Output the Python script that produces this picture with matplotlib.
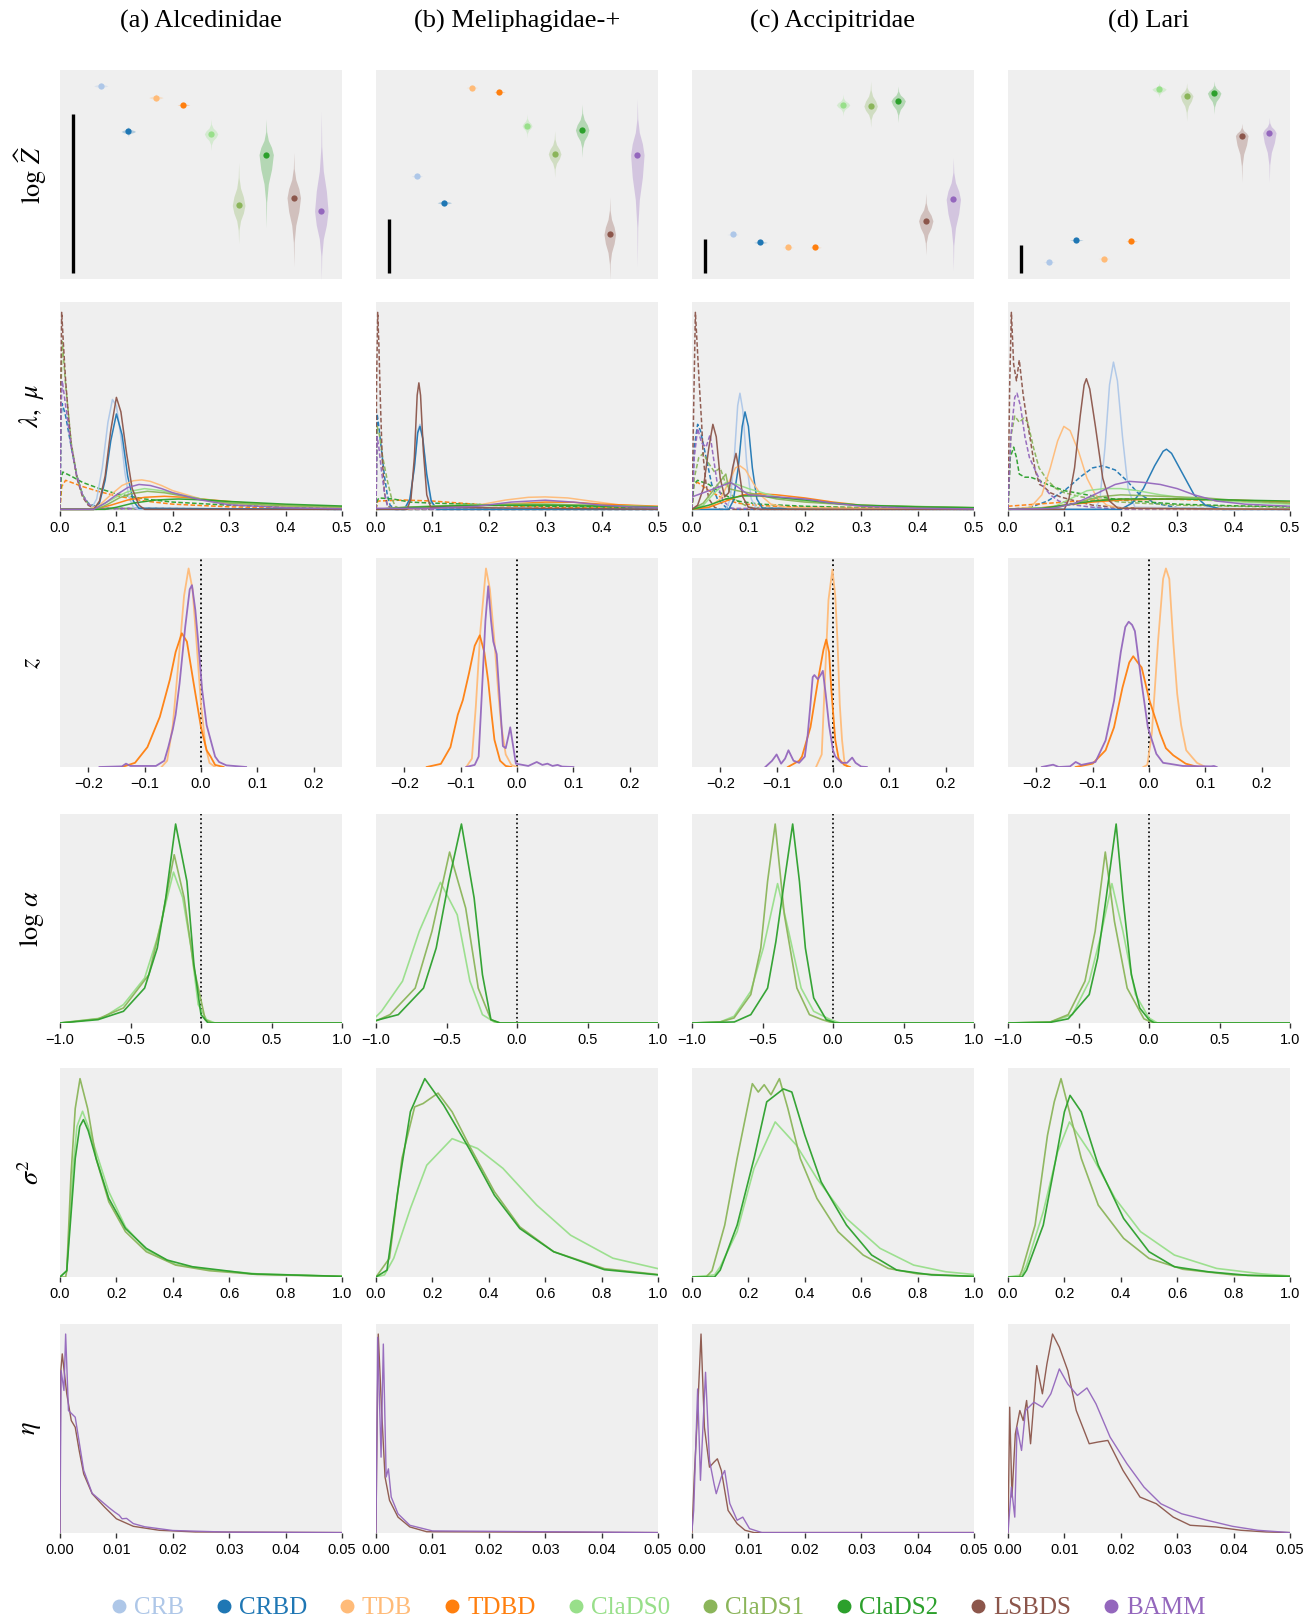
import matplotlib

matplotlib.use("Agg")
import matplotlib.pyplot as plt
from matplotlib.lines import Line2D

plt.rcParams["mathtext.fontset"] = "stix"
plt.rcParams["font.family"] = ["Liberation Sans", "DejaVu Sans"]

MODELS = ["CRB", "CRBD", "TDB", "TDBD", "ClaDS0", "ClaDS1", "ClaDS2", "LSBDS", "BAMM"]
COLORS = {
    "CRB": "#aec7e8", "CRBD": "#1f77b4", "TDB": "#ffbb78", "TDBD": "#ff7f0e",
    "ClaDS0": "#98df8a", "ClaDS1": "#8bb55a", "ClaDS2": "#2ca02c",
    "LSBDS": "#8c564b", "BAMM": "#9467bd",
}
TITLES = ["(a) Alcedinidae", "(b) Meliphagidae-+", "(c) Accipitridae", "(d) Lari"]
ROW_LABELS = [r"$\log\,\widehat{Z}$", r"$\lambda,\ \mu$", r"$z$", r"$\log\,\alpha$",
              r"$\sigma^2$", r"$\eta$"]

# ---- row 1: log Z violins (scaled to panel height) ----
LOGZ_MID = [
    [0.924, 0.706, 0.868, 0.833, 0.694, 0.352, 0.595, 0.389, 0.324],
    [0.492, 0.365, 0.916, 0.895, 0.733, 0.598, 0.713, 0.213, 0.594],
    [0.213, 0.175, 0.151, 0.151, 0.833, 0.827, 0.852, 0.278, 0.381],
    [0.081, 0.186, 0.098, 0.181, 0.908, 0.876, 0.889, 0.686, 0.700],
]
LOGZ_UP = [
    [0.016, 0.024, 0.019, 0.010, 0.071, 0.206, 0.170, 0.217, 0.480],
    [0.010, 0.016, 0.008, 0.008, 0.056, 0.111, 0.124, 0.180, 0.267],
    [0.008, 0.010, 0.006, 0.006, 0.051, 0.120, 0.071, 0.133, 0.200],
    [0.006, 0.008, 0.006, 0.008, 0.032, 0.063, 0.059, 0.059, 0.073],
]
LOGZ_DOWN = [
    [0.016, 0.024, 0.019, 0.010, 0.079, 0.183, 0.350, 0.330, 0.330],
    [0.010, 0.016, 0.008, 0.008, 0.056, 0.111, 0.130, 0.217, 0.535],
    [0.008, 0.010, 0.006, 0.006, 0.052, 0.100, 0.103, 0.163, 0.340],
    [0.006, 0.008, 0.006, 0.008, 0.040, 0.120, 0.100, 0.222, 0.237],
]
LOGZ_HALFWIDTH = [
    [0.26, 0.26, 0.26, 0.23, 0.245, 0.23, 0.26, 0.245, 0.245],
    [0.21, 0.26, 0.21, 0.21, 0.18, 0.23, 0.245, 0.21, 0.245],
    [0.21, 0.245, 0.21, 0.21, 0.245, 0.245, 0.26, 0.26, 0.26],
    [0.21, 0.245, 0.21, 0.21, 0.26, 0.23, 0.245, 0.23, 0.245],
]
SCALE_BAR_TOP = [0.789, 0.289, 0.189, 0.162]
SCALE_BAR_BOTTOM = 0.03

# ---- row 2: lambda (solid) and mu (dashed) densities ----
LAMBDA_A = {
    "CRB": [(0, 0), (0.055, 0), (0.065, 0.05), (0.075, 0.2), (0.085, 0.42), (0.093, 0.53), (0.1, 0.5), (0.108, 0.35), (0.115, 0.18), (0.122, 0.06), (0.13, 0.01), (0.14, 0), (0.5, 0)],
    "CRBD": [(0, 0), (0.06, 0), (0.07, 0.03), (0.08, 0.14), (0.09, 0.33), (0.1, 0.46), (0.11, 0.36), (0.12, 0.16), (0.13, 0.04), (0.14, 0.005), (0.5, 0)],
    "TDB": [(0, 0), (0.05, 0), (0.07, 0.02), (0.09, 0.07), (0.11, 0.115), (0.13, 0.138), (0.145, 0.142), (0.16, 0.135), (0.18, 0.115), (0.2, 0.09), (0.25, 0.05), (0.3, 0.03), (0.4, 0.015), (0.5, 0.01)],
    "TDBD": [(0, 0), (0.06, 0), (0.09, 0.02), (0.12, 0.045), (0.15, 0.058), (0.185, 0.063), (0.22, 0.058), (0.27, 0.045), (0.32, 0.033), (0.4, 0.02), (0.5, 0.012)],
    "ClaDS0": [(0, 0), (0.06, 0), (0.08, 0.03), (0.1, 0.06), (0.12, 0.085), (0.15, 0.1), (0.18, 0.09), (0.2, 0.078), (0.25, 0.05), (0.3, 0.033), (0.4, 0.018), (0.5, 0.012)],
    "ClaDS1": [(0, 0), (0.065, 0), (0.085, 0.025), (0.105, 0.055), (0.125, 0.075), (0.155, 0.087), (0.185, 0.08), (0.21, 0.068), (0.26, 0.045), (0.3, 0.03), (0.4, 0.017), (0.5, 0.011)],
    "ClaDS2": [(0, 0), (0.08, 0), (0.1, 0.01), (0.13, 0.03), (0.17, 0.045), (0.21, 0.05), (0.26, 0.045), (0.3, 0.038), (0.4, 0.025), (0.5, 0.016)],
    "LSBDS": [(0, 0), (0.06, 0), (0.07, 0.04), (0.08, 0.16), (0.09, 0.38), (0.1, 0.54), (0.108, 0.47), (0.118, 0.27), (0.128, 0.1), (0.14, 0.02), (0.15, 0), (0.5, 0)],
    "BAMM": [(0, 0), (0.06, 0), (0.08, 0.03), (0.1, 0.07), (0.12, 0.105), (0.14, 0.12), (0.16, 0.115), (0.18, 0.1), (0.2, 0.08), (0.25, 0.045), (0.3, 0.022), (0.4, 0.008), (0.5, 0.003)],
}
MU_A = {
    "CRBD": [(0, 0), (0.002, 0.45), (0.004, 0.51), (0.01, 0.45), (0.02, 0.3), (0.03, 0.16), (0.04, 0.07), (0.05, 0.03), (0.07, 0.005), (0.5, 0)],
    "TDBD": [(0, 0), (0.003, 0.11), (0.01, 0.14), (0.02, 0.13), (0.04, 0.11), (0.07, 0.085), (0.1, 0.065), (0.15, 0.04), (0.2, 0.025), (0.3, 0.012), (0.4, 0.007), (0.5, 0.004)],
    "ClaDS1": [(0, 0), (0.002, 0.6), (0.004, 0.81), (0.01, 0.6), (0.02, 0.32), (0.03, 0.16), (0.04, 0.07), (0.05, 0.025), (0.07, 0.003), (0.5, 0)],
    "ClaDS2": [(0, 0), (0.002, 0.15), (0.005, 0.18), (0.02, 0.16), (0.04, 0.13), (0.07, 0.1), (0.1, 0.075), (0.15, 0.05), (0.2, 0.035), (0.3, 0.02), (0.4, 0.012), (0.5, 0.008)],
    "LSBDS": [(0, 0), (0.001, 0.5), (0.003, 0.95), (0.006, 0.8), (0.01, 0.62), (0.015, 0.45), (0.02, 0.31), (0.03, 0.15), (0.04, 0.06), (0.05, 0.02), (0.06, 0.005), (0.5, 0)],
    "BAMM": [(0, 0), (0.002, 0.5), (0.004, 0.62), (0.01, 0.5), (0.02, 0.3), (0.03, 0.16), (0.04, 0.07), (0.05, 0.025), (0.07, 0.003), (0.5, 0)],
}
LAMBDA_B = {
    "CRB": [(0, 0), (0.052, 0), (0.061, 0.05), (0.068, 0.21), (0.074, 0.38), (0.078, 0.41), (0.083, 0.35), (0.089, 0.17), (0.097, 0.04), (0.105, 0), (0.5, 0)],
    "CRBD": [(0, 0), (0.05, 0), (0.06, 0.05), (0.068, 0.2), (0.074, 0.37), (0.078, 0.4), (0.083, 0.34), (0.09, 0.17), (0.098, 0.04), (0.108, 0), (0.5, 0)],
    "TDB": [(0, 0), (0.1, 0.005), (0.18, 0.02), (0.23, 0.045), (0.27, 0.058), (0.3, 0.06), (0.34, 0.055), (0.38, 0.04), (0.43, 0.022), (0.5, 0.01)],
    "TDBD": [(0, 0), (0.1, 0.008), (0.2, 0.02), (0.3, 0.035), (0.35, 0.034), (0.4, 0.025), (0.5, 0.015)],
    "ClaDS0": [(0, 0), (0.05, 0.01), (0.15, 0.02), (0.25, 0.025), (0.35, 0.022), (0.5, 0.012)],
    "ClaDS1": [(0, 0), (0.05, 0.01), (0.15, 0.02), (0.3, 0.025), (0.5, 0.012)],
    "ClaDS2": [(0, 0), (0.05, 0.008), (0.15, 0.018), (0.3, 0.02), (0.5, 0.01)],
    "LSBDS": [(0, 0), (0.055, 0), (0.062, 0.05), (0.068, 0.25), (0.073, 0.55), (0.076, 0.61), (0.079, 0.55), (0.084, 0.28), (0.09, 0.07), (0.097, 0.01), (0.5, 0)],
    "BAMM": [(0, 0.005), (0.1, 0.005), (0.18, 0.015), (0.24, 0.035), (0.3, 0.044), (0.35, 0.035), (0.4, 0.02), (0.45, 0.012), (0.5, 0.008)],
}
MU_B = {
    "CRBD": [(0, 0), (0.002, 0.46), (0.005, 0.4), (0.01, 0.28), (0.015, 0.16), (0.02, 0.07), (0.025, 0.02), (0.035, 0), (0.5, 0)],
    "TDBD": [(0, 0), (0.003, 0.04), (0.05, 0.045), (0.1, 0.04), (0.15, 0.03), (0.2, 0.02), (0.3, 0.01), (0.5, 0.005)],
    "ClaDS1": [(0, 0), (0.002, 0.4), (0.006, 0.36), (0.012, 0.25), (0.02, 0.14), (0.027, 0.06), (0.034, 0.015), (0.045, 0), (0.5, 0)],
    "ClaDS2": [(0, 0), (0.002, 0.04), (0.005, 0.055), (0.03, 0.05), (0.06, 0.035), (0.1, 0.03), (0.2, 0.022), (0.3, 0.015), (0.5, 0.008)],
    "LSBDS": [(0, 0), (0.001, 0.6), (0.003, 0.95), (0.005, 0.8), (0.008, 0.5), (0.011, 0.25), (0.015, 0.08), (0.02, 0.02), (0.03, 0), (0.5, 0)],
    "BAMM": [(0, 0), (0.002, 0.35), (0.005, 0.3), (0.01, 0.18), (0.015, 0.08), (0.02, 0.02), (0.03, 0), (0.5, 0)],
}
LAMBDA_C = {
    "CRB": [(0, 0), (0.06, 0), (0.068, 0.05), (0.075, 0.25), (0.081, 0.5), (0.085, 0.56), (0.09, 0.48), (0.097, 0.22), (0.105, 0.05), (0.115, 0), (0.5, 0)],
    "CRBD": [(0, 0), (0.065, 0), (0.073, 0.04), (0.082, 0.2), (0.089, 0.4), (0.094, 0.47), (0.1, 0.4), (0.107, 0.2), (0.115, 0.05), (0.125, 0.005), (0.5, 0)],
    "TDB": [(0, 0), (0.03, 0.01), (0.05, 0.05), (0.065, 0.13), (0.077, 0.2), (0.085, 0.21), (0.095, 0.19), (0.11, 0.12), (0.125, 0.06), (0.14, 0.025), (0.17, 0.008), (0.5, 0)],
    "TDBD": [(0, 0), (0.03, 0.01), (0.06, 0.04), (0.09, 0.07), (0.12, 0.075), (0.15, 0.07), (0.2, 0.055), (0.25, 0.035), (0.3, 0.02), (0.4, 0.01), (0.5, 0.005)],
    "ClaDS0": [(0, 0), (0.02, 0.02), (0.04, 0.08), (0.06, 0.13), (0.08, 0.12), (0.1, 0.1), (0.15, 0.06), (0.2, 0.04), (0.3, 0.02), (0.5, 0.008)],
    "ClaDS1": [(0, 0), (0.02, 0.03), (0.04, 0.1), (0.06, 0.17), (0.065, 0.1), (0.08, 0.09), (0.1, 0.08), (0.15, 0.05), (0.2, 0.035), (0.3, 0.018), (0.5, 0.008)],
    "ClaDS2": [(0, 0), (0.03, 0.02), (0.06, 0.05), (0.09, 0.065), (0.12, 0.065), (0.16, 0.055), (0.2, 0.045), (0.25, 0.03), (0.3, 0.02), (0.4, 0.012), (0.5, 0.008)],
    "LSBDS": [(0, 0), (0.01, 0.02), (0.02, 0.1), (0.03, 0.3), (0.037, 0.41), (0.043, 0.35), (0.05, 0.15), (0.058, 0.06), (0.065, 0.08), (0.072, 0.2), (0.078, 0.27), (0.084, 0.18), (0.09, 0.06), (0.1, 0.01), (0.12, 0), (0.5, 0)],
    "BAMM": [(0, 0.06), (0.01, 0.07), (0.03, 0.09), (0.05, 0.11), (0.068, 0.13), (0.08, 0.11), (0.1, 0.07), (0.15, 0.06), (0.2, 0.05), (0.25, 0.03), (0.3, 0.015), (0.4, 0.005), (0.5, 0.002)],
}
MU_C = {
    "CRBD": [(0, 0), (0.004, 0.3), (0.01, 0.41), (0.015, 0.38), (0.025, 0.25), (0.035, 0.12), (0.045, 0.05), (0.06, 0.01), (0.08, 0), (0.5, 0)],
    "TDBD": [(0, 0), (0.003, 0.12), (0.01, 0.13), (0.02, 0.11), (0.03, 0.09), (0.05, 0.06), (0.08, 0.03), (0.12, 0.018), (0.2, 0.01), (0.5, 0.004)],
    "ClaDS1": [(0, 0), (0.004, 0.15), (0.012, 0.25), (0.02, 0.27), (0.03, 0.22), (0.04, 0.18), (0.05, 0.2), (0.06, 0.12), (0.075, 0.05), (0.1, 0.01), (0.2, 0), (0.5, 0)],
    "ClaDS2": [(0, 0), (0.003, 0.12), (0.01, 0.14), (0.02, 0.13), (0.03, 0.12), (0.05, 0.08), (0.08, 0.04), (0.12, 0.025), (0.2, 0.015), (0.3, 0.008), (0.5, 0.004)],
    "LSBDS": [(0, 0), (0.003, 0.5), (0.006, 0.95), (0.009, 0.8), (0.013, 0.6), (0.017, 0.42), (0.02, 0.25), (0.025, 0.12), (0.03, 0.05), (0.04, 0.01), (0.05, 0), (0.5, 0)],
    "BAMM": [(0, 0), (0.004, 0.25), (0.01, 0.39), (0.017, 0.32), (0.025, 0.3), (0.032, 0.36), (0.038, 0.25), (0.045, 0.12), (0.055, 0.04), (0.07, 0.005), (0.5, 0)],
}
LAMBDA_D = {
    "CRB": [(0, 0), (0.155, 0), (0.163, 0.05), (0.172, 0.3), (0.18, 0.6), (0.187, 0.71), (0.194, 0.62), (0.203, 0.35), (0.213, 0.1), (0.225, 0.01), (0.5, 0)],
    "CRBD": [(0, 0), (0.2, 0), (0.22, 0.03), (0.24, 0.1), (0.26, 0.21), (0.275, 0.28), (0.281, 0.29), (0.29, 0.27), (0.31, 0.17), (0.33, 0.07), (0.35, 0.02), (0.38, 0), (0.5, 0)],
    "TDB": [(0, 0), (0.04, 0.01), (0.06, 0.07), (0.075, 0.2), (0.088, 0.33), (0.099, 0.4), (0.11, 0.38), (0.125, 0.28), (0.14, 0.15), (0.155, 0.07), (0.175, 0.02), (0.2, 0.005), (0.5, 0)],
    "TDBD": [(0, 0), (0.05, 0.005), (0.1, 0.02), (0.15, 0.035), (0.2, 0.045), (0.3, 0.05), (0.4, 0.045), (0.5, 0.035)],
    "ClaDS0": [(0, 0), (0.08, 0.01), (0.11, 0.05), (0.14, 0.09), (0.17, 0.1), (0.2, 0.1), (0.23, 0.09), (0.27, 0.07), (0.3, 0.06), (0.35, 0.045), (0.42, 0.035), (0.5, 0.025)],
    "ClaDS1": [(0, 0), (0.08, 0.005), (0.12, 0.03), (0.16, 0.06), (0.2, 0.07), (0.25, 0.065), (0.3, 0.06), (0.35, 0.055), (0.42, 0.04), (0.5, 0.03)],
    "ClaDS2": [(0, 0), (0.06, 0.005), (0.1, 0.02), (0.15, 0.04), (0.2, 0.05), (0.3, 0.05), (0.4, 0.045), (0.5, 0.04)],
    "LSBDS": [(0, 0), (0.1, 0), (0.108, 0.05), (0.118, 0.2), (0.128, 0.45), (0.135, 0.6), (0.139, 0.63), (0.145, 0.58), (0.155, 0.4), (0.168, 0.15), (0.18, 0.04), (0.195, 0.005), (0.5, 0)],
    "BAMM": [(0, 0), (0.08, 0.005), (0.12, 0.03), (0.16, 0.08), (0.19, 0.12), (0.215, 0.135), (0.24, 0.13), (0.27, 0.12), (0.3, 0.1), (0.33, 0.07), (0.37, 0.04), (0.42, 0.025), (0.5, 0.015)],
}
MU_D = {
    "CRBD": [(0, 0), (0.04, 0.01), (0.07, 0.04), (0.1, 0.09), (0.13, 0.16), (0.15, 0.2), (0.168, 0.21), (0.19, 0.19), (0.21, 0.14), (0.23, 0.08), (0.26, 0.03), (0.3, 0.008), (0.35, 0), (0.5, 0)],
    "TDBD": [(0, 0.015), (0.05, 0.025), (0.1, 0.035), (0.15, 0.045), (0.2, 0.05), (0.25, 0.05), (0.3, 0.048), (0.4, 0.04), (0.5, 0.03)],
    "ClaDS1": [(0, 0), (0.005, 0.35), (0.012, 0.45), (0.02, 0.42), (0.028, 0.44), (0.035, 0.42), (0.045, 0.3), (0.055, 0.2), (0.07, 0.14), (0.085, 0.1), (0.1, 0.08), (0.13, 0.06), (0.16, 0.05), (0.2, 0.035), (0.3, 0.02), (0.5, 0.01)],
    "ClaDS2": [(0, 0), (0.004, 0.25), (0.01, 0.3), (0.015, 0.25), (0.02, 0.17), (0.03, 0.155), (0.04, 0.155), (0.055, 0.14), (0.07, 0.12), (0.1, 0.09), (0.15, 0.065), (0.2, 0.045), (0.25, 0.035), (0.3, 0.025), (0.4, 0.017), (0.5, 0.013)],
    "LSBDS": [(0, 0), (0.003, 0.6), (0.006, 0.95), (0.01, 0.7), (0.015, 0.62), (0.02, 0.72), (0.027, 0.55), (0.033, 0.44), (0.04, 0.33), (0.048, 0.19), (0.056, 0.12), (0.063, 0.11), (0.075, 0.08), (0.093, 0.06), (0.12, 0.04), (0.15, 0.02), (0.2, 0.008), (0.5, 0)],
    "BAMM": [(0, 0), (0.005, 0.35), (0.012, 0.54), (0.016, 0.56), (0.022, 0.5), (0.03, 0.35), (0.038, 0.25), (0.048, 0.19), (0.06, 0.12), (0.075, 0.07), (0.09, 0.04), (0.12, 0.02), (0.15, 0.01), (0.2, 0), (0.5, 0)],
}

# ---- row 3: z densities ----
Z_A = {
    "TDB": [(-0.07, 0), (-0.06, 0.03), (-0.05, 0.2), (-0.04, 0.5), (-0.03, 0.82), (-0.022, 0.95), (-0.015, 0.85), (-0.008, 0.6), (0, 0.3), (0.008, 0.1), (0.015, 0.02), (0.025, 0)],
    "TDBD": [(-0.14, 0), (-0.117, 0.02), (-0.095, 0.095), (-0.073, 0.24), (-0.055, 0.42), (-0.045, 0.55), (-0.034, 0.64), (-0.025, 0.6), (-0.013, 0.4), (0, 0.19), (0.01, 0.08), (0.017, 0.05), (0.025, 0.01), (0.04, 0)],
    "BAMM": [(-0.18, 0), (-0.14, 0.003), (-0.133, 0.016), (-0.125, 0.005), (-0.08, 0.005), (-0.065, 0.03), (-0.058, 0.095), (-0.05, 0.18), (-0.045, 0.25), (-0.038, 0.4), (-0.028, 0.67), (-0.02, 0.85), (-0.016, 0.87), (-0.01, 0.75), (-0.005, 0.6), (0.002, 0.37), (0.01, 0.2), (0.017, 0.13), (0.025, 0.05), (0.032, 0.024), (0.045, 0.008), (0.08, 0)],
}
Z_B = {
    "TDB": [(-0.09, 0), (-0.08, 0.04), (-0.073, 0.29), (-0.065, 0.65), (-0.055, 0.95), (-0.048, 0.85), (-0.04, 0.6), (-0.033, 0.35), (-0.028, 0.2), (-0.02, 0.06), (-0.01, 0.01), (0, 0)],
    "TDBD": [(-0.16, 0), (-0.135, 0.015), (-0.118, 0.095), (-0.105, 0.25), (-0.096, 0.32), (-0.085, 0.45), (-0.075, 0.58), (-0.066, 0.63), (-0.058, 0.55), (-0.051, 0.41), (-0.045, 0.25), (-0.04, 0.13), (-0.03, 0.03), (-0.02, 0.005), (-0.01, 0)],
    "BAMM": [(-0.09, 0), (-0.075, 0.01), (-0.068, 0.05), (-0.062, 0.37), (-0.056, 0.7), (-0.051, 0.865), (-0.046, 0.7), (-0.042, 0.6), (-0.036, 0.54), (-0.03, 0.3), (-0.025, 0.1), (-0.02, 0.09), (-0.015, 0.15), (-0.012, 0.19), (-0.008, 0.12), (-0.002, 0.016), (0.01, 0.01), (0.02, 0.005), (0.035, 0.024), (0.045, 0.01), (0.054, 0.016), (0.063, 0.005), (0.072, 0.01), (0.08, 0.002), (0.1, 0)],
}
Z_C = {
    "TDB": [(-0.03, 0), (-0.02, 0.06), (-0.014, 0.44), (-0.008, 0.8), (-0.001, 0.945), (0.004, 0.82), (0.008, 0.6), (0.012, 0.3), (0.016, 0.13), (0.02, 0.03), (0.025, 0)],
    "TDBD": [(-0.08, 0), (-0.06, 0.03), (-0.055, 0.05), (-0.04, 0.19), (-0.025, 0.44), (-0.017, 0.56), (-0.012, 0.61), (-0.007, 0.55), (-0.003, 0.37), (0.004, 0.13), (0.01, 0.04), (0.02, 0.01), (0.03, 0)],
    "BAMM": [(-0.12, 0), (-0.108, 0.03), (-0.1, 0.06), (-0.092, 0.016), (-0.085, 0.04), (-0.079, 0.08), (-0.07, 0.03), (-0.06, 0.02), (-0.05, 0.05), (-0.045, 0.15), (-0.04, 0.3), (-0.036, 0.43), (-0.033, 0.44), (-0.027, 0.42), (-0.022, 0.44), (-0.018, 0.46), (-0.013, 0.35), (-0.007, 0.2), (0, 0.08), (0.004, 0.05), (0.015, 0.02), (0.025, 0.02), (0.034, 0.045), (0.04, 0.02), (0.05, 0.002), (0.06, 0)],
}
Z_D = {
    "TDB": [(-0.01, 0), (-0.003, 0.01), (0.005, 0.16), (0.016, 0.6), (0.025, 0.9), (0.03, 0.95), (0.036, 0.9), (0.043, 0.6), (0.05, 0.35), (0.057, 0.2), (0.066, 0.08), (0.076, 0.048), (0.085, 0.02), (0.1, 0)],
    "TDBD": [(-0.13, 0), (-0.1, 0.016), (-0.077, 0.08), (-0.062, 0.19), (-0.047, 0.38), (-0.035, 0.5), (-0.028, 0.53), (-0.02, 0.5), (-0.013, 0.476), (0.001, 0.317), (0.02, 0.159), (0.03, 0.09), (0.043, 0.056), (0.065, 0.016), (0.087, 0)],
    "BAMM": [(-0.19, 0), (-0.17, 0.011), (-0.16, 0), (-0.14, 0.003), (-0.13, 0.024), (-0.12, 0.01), (-0.095, 0.024), (-0.077, 0.127), (-0.062, 0.317), (-0.05, 0.55), (-0.042, 0.67), (-0.036, 0.695), (-0.03, 0.68), (-0.025, 0.65), (-0.013, 0.4), (-0.002, 0.19), (0.013, 0.063), (0.025, 0.02), (0.035, 0.016), (0.06, 0.005), (0.11, 0.003), (0.115, 0.005), (0.12, 0)],
}

# ---- row 4: log alpha densities ----
ALPHA_A = {
    "ClaDS0": [(-1, 0), (-0.7, 0.024), (-0.55, 0.088), (-0.4, 0.215), (-0.31, 0.407), (-0.195, 0.722), (-0.13, 0.6), (-0.07, 0.359), (-0.02, 0.088), (0.04, 0.016), (0.1, 0), (1, 0)],
    "ClaDS1": [(-1, 0), (-0.73, 0.02), (-0.55, 0.072), (-0.37, 0.231), (-0.28, 0.486), (-0.19, 0.805), (-0.12, 0.6), (-0.05, 0.263), (0.03, 0.016), (0.08, 0), (1, 0)],
    "ClaDS2": [(-1, 0), (-0.73, 0.016), (-0.55, 0.056), (-0.4, 0.167), (-0.31, 0.359), (-0.25, 0.598), (-0.18, 0.952), (-0.1, 0.678), (-0.05, 0.279), (0, 0.04), (0.05, 0), (1, 0)],
}
ALPHA_B = {
    "ClaDS0": [(-1, 0.03), (-0.961, 0.056), (-0.812, 0.2), (-0.693, 0.439), (-0.543, 0.673), (-0.424, 0.518), (-0.334, 0.2), (-0.245, 0.04), (-0.15, 0), (1, 0)],
    "ClaDS1": [(-1, 0.01), (-0.901, 0.04), (-0.722, 0.167), (-0.603, 0.439), (-0.478, 0.818), (-0.364, 0.55), (-0.275, 0.167), (-0.185, 0.016), (-0.12, 0), (1, 0)],
    "ClaDS2": [(-1, 0.012), (-0.842, 0.04), (-0.663, 0.167), (-0.573, 0.359), (-0.484, 0.678), (-0.394, 0.952), (-0.304, 0.598), (-0.245, 0.231), (-0.185, 0.016), (-0.12, 0), (1, 0)],
}
ALPHA_C = {
    "ClaDS0": [(-1, 0), (-0.8, 0.005), (-0.702, 0.032), (-0.583, 0.152), (-0.494, 0.359), (-0.393, 0.667), (-0.315, 0.439), (-0.226, 0.167), (-0.137, 0.056), (-0.018, 0.016), (0.05, 0), (1, 0)],
    "ClaDS1": [(-1, 0), (-0.8, 0.005), (-0.702, 0.024), (-0.583, 0.136), (-0.512, 0.359), (-0.464, 0.678), (-0.41, 0.952), (-0.345, 0.518), (-0.256, 0.167), (-0.167, 0.04), (-0.077, 0.016), (0, 0), (1, 0)],
    "ClaDS2": [(-1, 0), (-0.7, 0.005), (-0.583, 0.04), (-0.464, 0.167), (-0.405, 0.39), (-0.345, 0.678), (-0.286, 0.952), (-0.238, 0.678), (-0.196, 0.359), (-0.137, 0.12), (-0.048, 0.016), (0.02, 0), (1, 0)],
}
ALPHA_D = {
    "ClaDS0": [(-1, 0), (-0.7, 0.005), (-0.543, 0.04), (-0.424, 0.2), (-0.346, 0.407), (-0.263, 0.667), (-0.185, 0.439), (-0.096, 0.136), (0, 0.024), (0.06, 0), (1, 0)],
    "ClaDS1": [(-1, 0), (-0.7, 0.005), (-0.573, 0.04), (-0.454, 0.2), (-0.382, 0.439), (-0.31, 0.818), (-0.245, 0.486), (-0.155, 0.167), (-0.036, 0.02), (0.03, 0), (1, 0)],
    "ClaDS2": [(-1, 0), (-0.7, 0.003), (-0.573, 0.02), (-0.424, 0.136), (-0.364, 0.311), (-0.304, 0.598), (-0.233, 0.952), (-0.185, 0.598), (-0.125, 0.231), (-0.066, 0.072), (0, 0.016), (0.04, 0), (1, 0)],
}

# ---- row 5: sigma^2 densities ----
SIGMA_A = {
    "ClaDS0": [(0, 0), (0.024, 0.03), (0.045, 0.5), (0.06, 0.72), (0.08, 0.793), (0.1, 0.72), (0.128, 0.599), (0.173, 0.408), (0.232, 0.24), (0.306, 0.13), (0.41, 0.06), (0.53, 0.035), (0.7, 0.015), (1, 0.003)],
    "ClaDS1": [(0, 0), (0.02, 0), (0.024, 0.03), (0.039, 0.487), (0.054, 0.806), (0.071, 0.949), (0.098, 0.806), (0.128, 0.567), (0.173, 0.36), (0.232, 0.217), (0.306, 0.121), (0.41, 0.057), (0.53, 0.03), (0.7, 0.012), (1, 0.003)],
    "ClaDS2": [(0, 0), (0.024, 0.03), (0.054, 0.567), (0.07, 0.72), (0.083, 0.753), (0.1, 0.7), (0.128, 0.567), (0.173, 0.376), (0.232, 0.232), (0.306, 0.137), (0.38, 0.081), (0.47, 0.049), (0.68, 0.015), (1, 0.003)],
}
SIGMA_B = {
    "ClaDS0": [(0, 0), (0.03, 0.01), (0.063, 0.09), (0.122, 0.328), (0.18, 0.535), (0.27, 0.662), (0.36, 0.615), (0.45, 0.52), (0.57, 0.344), (0.69, 0.2), (0.84, 0.09), (1, 0.04)],
    "ClaDS1": [(0, 0), (0.048, 0.09), (0.092, 0.567), (0.137, 0.814), (0.167, 0.83), (0.22, 0.88), (0.27, 0.79), (0.33, 0.631), (0.42, 0.408), (0.51, 0.24), (0.63, 0.121), (0.81, 0.04), (1, 0.012)],
    "ClaDS2": [(0, 0), (0.039, 0.033), (0.077, 0.408), (0.122, 0.791), (0.173, 0.949), (0.24, 0.822), (0.33, 0.615), (0.42, 0.391), (0.51, 0.232), (0.63, 0.121), (0.81, 0.035), (1, 0.01)],
}
SIGMA_C = {
    "ClaDS0": [(0, 0), (0.08, 0.01), (0.1, 0.049), (0.16, 0.217), (0.22, 0.52), (0.295, 0.742), (0.37, 0.631), (0.443, 0.471), (0.548, 0.28), (0.667, 0.137), (0.786, 0.057), (0.9, 0.025), (1, 0.012)],
    "ClaDS1": [(0, 0), (0.05, 0), (0.071, 0.03), (0.116, 0.248), (0.16, 0.567), (0.196, 0.806), (0.214, 0.925), (0.235, 0.885), (0.256, 0.92), (0.28, 0.872), (0.31, 0.949), (0.34, 0.806), (0.384, 0.567), (0.443, 0.376), (0.518, 0.217), (0.607, 0.105), (0.696, 0.041), (0.8, 0.015), (1, 0.003)],
    "ClaDS2": [(0, 0), (0.08, 0), (0.1, 0.033), (0.16, 0.248), (0.22, 0.567), (0.265, 0.838), (0.324, 0.9), (0.354, 0.885), (0.4, 0.679), (0.458, 0.455), (0.548, 0.248), (0.637, 0.105), (0.726, 0.033), (0.85, 0.01), (1, 0.003)],
}
SIGMA_D = {
    "ClaDS0": [(0, 0), (0.05, 0.01), (0.066, 0.057), (0.125, 0.312), (0.176, 0.598), (0.218, 0.742), (0.29, 0.598), (0.38, 0.376), (0.47, 0.217), (0.59, 0.105), (0.74, 0.041), (0.9, 0.015), (1, 0.005)],
    "ClaDS1": [(0, 0), (0.04, 0), (0.05, 0.033), (0.096, 0.248), (0.14, 0.678), (0.164, 0.838), (0.188, 0.949), (0.215, 0.806), (0.26, 0.567), (0.32, 0.344), (0.41, 0.185), (0.5, 0.089), (0.62, 0.037), (0.8, 0.01), (1, 0.003)],
    "ClaDS2": [(0, 0), (0.05, 0), (0.066, 0.033), (0.125, 0.248), (0.17, 0.567), (0.2, 0.79), (0.22, 0.869), (0.26, 0.79), (0.32, 0.535), (0.41, 0.28), (0.5, 0.121), (0.59, 0.049), (0.71, 0.025), (0.85, 0.008), (1, 0.003)],
}

# ---- row 6: eta densities ----
ETA_A = {
    "LSBDS": [(0, 0), (0.0001, 0.761), (0.0004, 0.857), (0.0012, 0.666), (0.002, 0.538), (0.0027, 0.506), (0.0034, 0.395), (0.0042, 0.283), (0.0057, 0.188), (0.0079, 0.124), (0.01, 0.068), (0.013, 0.032), (0.0176, 0.013), (0.024, 0.005), (0.05, 0.002)],
    "BAMM": [(0, 0), (0.0002, 0.777), (0.0007, 0.682), (0.001, 0.952), (0.0015, 0.586), (0.0027, 0.554), (0.0042, 0.3), (0.0057, 0.19), (0.0087, 0.121), (0.0097, 0.1), (0.0105, 0.085), (0.011, 0.068), (0.0118, 0.07), (0.013, 0.045), (0.015, 0.03), (0.02, 0.012), (0.03, 0.004), (0.05, 0.002)],
}
ETA_B = {
    "LSBDS": [(0, 0), (0.0001, 0.3), (0.0004, 0.952), (0.001, 0.586), (0.0016, 0.268), (0.0024, 0.156), (0.0039, 0.076), (0.006, 0.029), (0.009, 0.006), (0.05, 0.002)],
    "BAMM": [(0, 0), (0.0003, 0.936), (0.0009, 0.363), (0.0013, 0.904), (0.0018, 0.268), (0.0022, 0.307), (0.0027, 0.172), (0.0039, 0.092), (0.006, 0.037), (0.01, 0.01), (0.05, 0.002)],
}
ETA_C = {
    "LSBDS": [(0, 0), (0.0004, 0.268), (0.001, 0.586), (0.0016, 0.952), (0.0022, 0.506), (0.0031, 0.315), (0.0039, 0.339), (0.0045, 0.355), (0.0052, 0.299), (0.0064, 0.108), (0.008, 0.045), (0.0094, 0.013), (0.011, 0.002), (0.05, 0.002)],
    "BAMM": [(0, 0.013), (0.0003, 0.108), (0.001, 0.689), (0.0015, 0.252), (0.0024, 0.769), (0.0031, 0.347), (0.0039, 0.236), (0.0043, 0.188), (0.0052, 0.268), (0.0058, 0.299), (0.0067, 0.141), (0.008, 0.061), (0.009, 0.076), (0.0102, 0.021), (0.0124, 0.002), (0.05, 0.002)],
}
ETA_D = {
    "LSBDS": [(0, 0), (0.0003, 0.602), (0.0007, 0.172), (0.0013, 0.474), (0.0021, 0.586), (0.0027, 0.538), (0.0033, 0.634), (0.004, 0.427), (0.0051, 0.801), (0.0061, 0.666), (0.0069, 0.809), (0.0079, 0.952), (0.0091, 0.889), (0.0106, 0.777), (0.0121, 0.586), (0.0144, 0.427), (0.0159, 0.435), (0.0177, 0.443), (0.0204, 0.299), (0.0234, 0.172), (0.0263, 0.14), (0.0293, 0.076), (0.0323, 0.037), (0.0368, 0.029), (0.0413, 0.013), (0.0458, 0.005), (0.05, 0.002)],
    "BAMM": [(0, 0), (0.0006, 0.22), (0.0012, 0.076), (0.0016, 0.506), (0.0024, 0.395), (0.0031, 0.586), (0.0046, 0.626), (0.0061, 0.602), (0.0076, 0.666), (0.0091, 0.785), (0.0106, 0.713), (0.0123, 0.658), (0.014, 0.694), (0.0156, 0.618), (0.0181, 0.459), (0.0211, 0.331), (0.0241, 0.22), (0.0271, 0.14), (0.0308, 0.092), (0.0353, 0.061), (0.0398, 0.032), (0.0443, 0.013), (0.05, 0.002)],
}

# x axes per row (density rows)
X_TICKS = [
    None,
    [0.0, 0.1, 0.2, 0.3, 0.4, 0.5],
    [-0.2, -0.1, 0.0, 0.1, 0.2],
    [-1.0, -0.5, 0.0, 0.5, 1.0],
    [0.0, 0.2, 0.4, 0.6, 0.8, 1.0],
    [0.0, 0.01, 0.02, 0.03, 0.04, 0.05],
]
X_TICKLABELS = [
    None,
    ["0.0", "0.1", "0.2", "0.3", "0.4", "0.5"],
    ["\u22120.2", "\u22120.1", "0.0", "0.1", "0.2"],
    ["\u22121.0", "\u22120.5", "0.0", "0.5", "1.0"],
    ["0.0", "0.2", "0.4", "0.6", "0.8", "1.0"],
    ["0.00", "0.01", "0.02", "0.03", "0.04", "0.05"],
]
X_LIMS = [(-0.48, 9.75), (0, 0.5), (-0.25, 0.25), (-1, 1), (0, 1), (0, 0.05)]

# violin outline shape (relative), style only
VIOLIN_T = [-1, -0.65, -0.4, -0.2, 0, 0.2, 0.4, 0.65, 1]
VIOLIN_W = [0, 0.06, 0.3, 0.75, 1, 0.75, 0.3, 0.06, 0]

W, H = 1314, 1620
COL_LEFT = [60, 376, 692, 1008]
ROW_TOP = [70, 302, 558, 814, 1068, 1324]
PANEL_W, PANEL_H = 282, 209
BG = "#efefef"


def make_axes(fig, row, col):
    x0 = COL_LEFT[col] / W
    y0 = 1 - (ROW_TOP[row] + PANEL_H) / H
    ax = fig.add_axes([x0, y0, PANEL_W / W, PANEL_H / H])
    ax.set_facecolor(BG)
    for s in ax.spines.values():
        s.set_visible(False)
    ax.set_yticks([])
    ax.set_xlim(*X_LIMS[row])
    if X_TICKS[row] is None:
        ax.set_xticks([])
    else:
        ax.set_xticks(X_TICKS[row])
        ax.set_xticklabels(X_TICKLABELS[row])
        ax.tick_params(axis="x", length=3.8, width=1.0, color="#333333",
                       pad=3.5, labelsize=10.5, labelcolor="#000000")
    return ax


def draw_curves(ax, curves, ls="-", lw=1.1):
    for name in MODELS:
        if name not in curves:
            continue
        xs = [p[0] for p in curves[name]]
        ys = [p[1] for p in curves[name]]
        ax.plot(xs, ys, color=COLORS[name], ls=ls, lw=lw, alpha=0.95,
                dashes=(3, 1.5) if ls == "--" else (None, None))


def draw_violins(ax, col):
    for k, name in enumerate(MODELS):
        pos = k + 1
        mid = LOGZ_MID[col][k]
        up = LOGZ_UP[col][k]
        dn = LOGZ_DOWN[col][k]
        hw = LOGZ_HALFWIDTH[col][k]
        ys = [mid + t * (up if t > 0 else dn) for t in VIOLIN_T]
        lo = [pos - hw * w for w in VIOLIN_W]
        hi = [pos + hw * w for w in VIOLIN_W]
        ax.fill_betweenx(ys, lo, hi, color=COLORS[name], alpha=0.3, lw=0)
        ax.plot(pos, mid, "o", color=COLORS[name], ms=4.5, mec="none")
    ax.plot([0, 0], [SCALE_BAR_BOTTOM, SCALE_BAR_TOP[col]], color="black",
            lw=2.4, solid_capstyle="butt")
    ax.set_ylim(0, 1)


def main():
    fig = plt.figure(figsize=(W / 100, H / 100), dpi=100)

    lam = [LAMBDA_A, LAMBDA_B, LAMBDA_C, LAMBDA_D]
    mu = [MU_A, MU_B, MU_C, MU_D]
    zs = [Z_A, Z_B, Z_C, Z_D]
    alphas = [ALPHA_A, ALPHA_B, ALPHA_C, ALPHA_D]
    sigmas = [SIGMA_A, SIGMA_B, SIGMA_C, SIGMA_D]
    etas = [ETA_A, ETA_B, ETA_C, ETA_D]

    for col in range(4):
        ax = make_axes(fig, 0, col)
        draw_violins(ax, col)

        ax = make_axes(fig, 1, col)
        draw_curves(ax, mu[col], ls="--")
        draw_curves(ax, lam[col], ls="-")
        ax.set_ylim(-0.008, 1)

        ax = make_axes(fig, 2, col)
        ax.axvline(0, color="black", ls=":", lw=1.3, zorder=1)
        draw_curves(ax, zs[col], lw=1.3)
        ax.set_ylim(0, 1)

        ax = make_axes(fig, 3, col)
        ax.axvline(0, color="black", ls=":", lw=1.2, zorder=1)
        draw_curves(ax, alphas[col], lw=1.2)
        ax.set_ylim(0, 1)

        ax = make_axes(fig, 4, col)
        draw_curves(ax, sigmas[col], lw=1.2)
        ax.set_ylim(0, 1)

        ax = make_axes(fig, 5, col)
        draw_curves(ax, etas[col], lw=1.0)
        ax.set_ylim(0, 1)

        cx = (COL_LEFT[col] + PANEL_W / 2) / W
        fig.text(cx, 1 - 21 / H, TITLES[col], ha="center", va="center",
                 fontsize=19, family=["Liberation Serif", "DejaVu Serif"])

    for row, label in enumerate(ROW_LABELS):
        cy = 1 - (ROW_TOP[row] + PANEL_H / 2) / H
        fig.text(31 / W, cy, label, rotation=90, ha="center", va="center",
                 fontsize=19)

    handles = [Line2D([], [], marker="o", ls="none", color=COLORS[m], ms=9)
               for m in MODELS]
    fig.legend(handles, MODELS, loc="center", bbox_to_anchor=(0.5, 1 - 1608 / H),
               ncol=len(MODELS), frameon=False, handletextpad=0.2,
               handlelength=0.8, columnspacing=1.2,
               labelcolor=[COLORS[m] for m in MODELS],
               prop={"family": "Liberation Serif", "size": 18})

    fig.savefig("out.png", dpi=100)
    plt.close(fig)


if __name__ == "__main__":
    main()
